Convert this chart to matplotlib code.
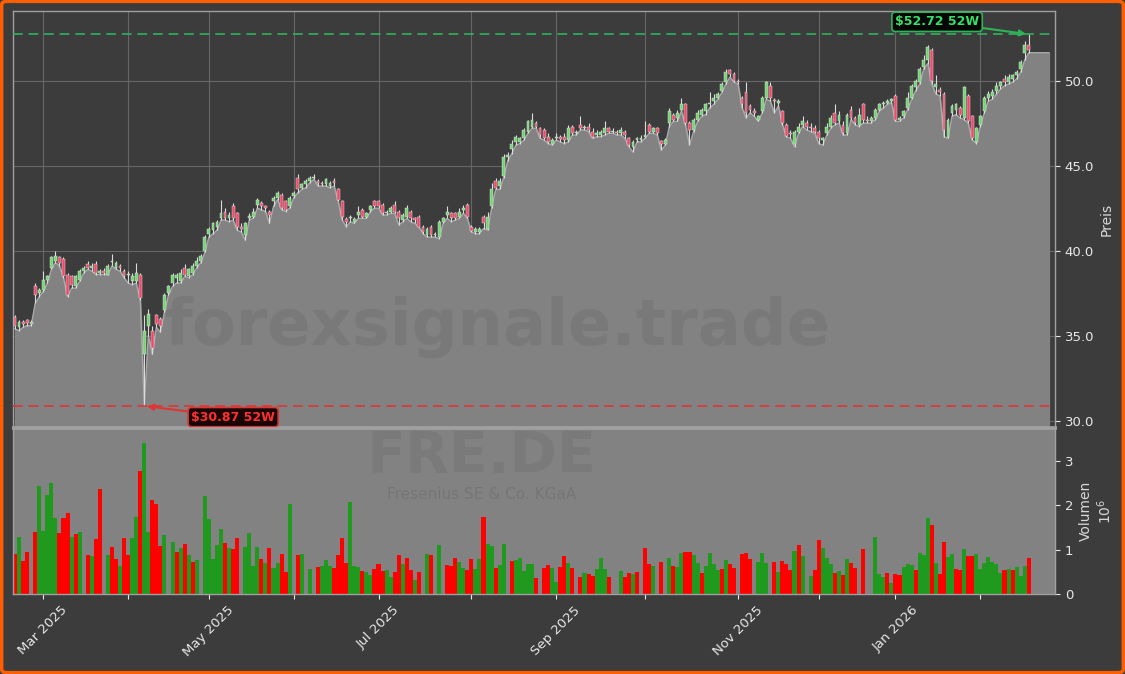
import numpy as np
import pandas as pd
import matplotlib
matplotlib.use("Agg")
import matplotlib.pyplot as plt
from matplotlib.patches import FancyBboxPatch

#%% - Daten (aus dem Chart abgelesen)
ticker = "FRE.DE"
firma = "Fresenius SE & Co. KGaA"
watermark = "forexsignale.trade"
start, ende = "2025-02-20", "2026-02-18"
feiertage = ["2025-04-18", "2025-04-21", "2025-05-01", "2025-12-24",
             "2025-12-25", "2025-12-26", "2025-12-31", "2026-01-01"]

opens = [36.1, 35.5, 35.8, 35.9, 35.7, 37.9, 37.5, 37.7, 38.3, 39.0,
         39.4, 39.6, 39.5, 38.6, 38.5, 37.9, 38.3, 38.8, 39.2, 39.0,
         39.2, 38.7, 38.8, 38.6, 39.35, 39.0, 39.1, 38.8, 38.55, 38.2,
         38.2, 38.6, 33.9, 35.6, 35.3, 36.2, 36.0, 36.5, 37.5, 38.1,
         38.4, 38.2, 39.0, 38.5, 38.7, 39.1, 39.4, 40.0, 41.0, 41.2,
         41.4, 41.9, 42.3, 41.9, 42.6, 42.2, 41.4, 40.9, 41.9, 42.0,
         42.7, 42.8, 42.6, 42.3, 42.9, 43.1, 43.3, 42.9, 42.6, 43.2,
         44.3, 43.7, 43.9, 44.1, 44.3, 44.1, 44.0, 43.9, 43.8, 44.1,
         43.6, 42.9, 41.85, 41.9, 41.7, 42.1, 42.4, 42.0, 42.4, 42.9,
         42.9, 42.7, 42.2, 42.3, 42.7, 42.3, 41.8, 42.0, 42.3, 41.9,
         42.0, 41.4, 40.9, 41.4, 40.9, 40.8, 41.7, 42.1, 42.2, 42.2,
         42.0, 42.4, 42.7, 41.4, 41.1, 41.1, 42.0, 41.3, 42.6, 44.1,
         43.8, 44.4, 45.5, 46.0, 46.4, 46.4, 46.6, 47.0, 47.3, 47.5,
         47.2, 47.1, 46.7, 46.3, 46.65, 46.7, 46.7, 46.5, 47.3, 46.9,
         47.4, 47.2, 47.3, 47.0, 46.8, 46.8, 46.9, 47.2, 47.0, 47.0,
         46.9, 47.0, 46.6, 46.1, 46.5, 46.5, 46.7, 47.4, 47.0, 47.2,
         46.45, 46.3, 47.5, 48.0, 47.8, 48.3, 48.6, 47.5, 47.1, 47.7,
         48.0, 48.2, 48.6, 48.8, 49.0, 49.4, 49.9, 50.6, 50.4, 50.0,
         49.0, 49.3, 48.5, 48.2, 47.7, 48.2, 49.0, 49.7, 48.85, 48.7,
         48.2, 47.4, 46.9, 46.3, 47.0, 47.4, 47.5, 47.3, 47.2, 47.0,
         46.5, 46.9, 47.3, 48.1, 47.6, 47.4, 46.9, 48.3, 47.8, 47.4,
         48.6, 47.7, 47.6, 47.8, 48.3, 48.6, 48.7, 48.8, 49.1, 47.7,
         47.9, 48.4, 49.0, 49.6, 49.9, 50.8, 51.2, 51.8, 49.6, 49.45,
         49.2, 46.7, 48.1, 48.3, 48.4, 47.8, 49.1, 47.9, 46.4, 47.4,
         48.2, 49.0, 49.1, 49.4, 49.7, 50.1, 49.9, 50.1, 50.3, 50.7,
         51.6, 52.1]
highs = [36.2, 35.9, 35.9, 36.0, 35.9, 38.1, 37.8, 38.8, 38.6, 39.7,
         40.0, 39.7, 39.6, 38.7, 38.6, 38.6, 38.9, 39.1, 39.4, 39.3,
         39.4, 38.9, 39.0, 39.2, 39.8, 39.4, 39.2, 38.9, 38.8, 38.7,
         39.3, 38.7, 36.2, 36.6, 35.6, 36.3, 36.1, 37.5, 38.0, 38.7,
         38.7, 38.9, 39.2, 39.0, 39.3, 39.6, 39.8, 40.9, 41.4, 41.7,
         41.8, 43.0, 42.5, 42.3, 42.8, 42.3, 41.6, 41.7, 42.2, 42.5,
         43.1, 42.9, 42.7, 42.4, 43.2, 43.5, 43.4, 43.0, 43.2, 43.5,
         44.5, 44.0, 44.2, 44.4, 44.5, 44.2, 44.1, 44.3, 44.1, 44.3,
         43.7, 43.0, 42.0, 42.1, 42.0, 42.6, 42.5, 42.3, 42.7, 43.0,
         43.0, 42.8, 42.4, 42.6, 42.9, 42.4, 42.2, 42.7, 42.4, 42.0,
         42.1, 41.5, 41.4, 41.5, 41.1, 41.8, 42.0, 42.6, 42.3, 42.3,
         42.5, 42.7, 42.8, 41.5, 41.4, 41.4, 42.1, 42.3, 44.0, 44.3,
         44.3, 45.7, 45.8, 46.5, 46.8, 46.7, 47.2, 47.7, 48.1, 47.6,
         47.3, 47.2, 46.9, 46.6, 46.9, 46.8, 46.9, 47.4, 47.4, 47.1,
         47.9, 47.4, 47.5, 47.2, 47.1, 47.1, 47.6, 47.3, 47.2, 47.1,
         47.3, 47.1, 46.7, 46.5, 46.7, 46.8, 47.6, 47.5, 47.3, 47.3,
         46.5, 46.6, 48.4, 48.1, 48.3, 49.0, 48.7, 47.6, 47.8, 48.3,
         48.4, 48.7, 49.3, 49.2, 49.3, 49.9, 50.7, 50.7, 50.5, 50.1,
         49.1, 49.9, 48.6, 48.4, 48.0, 49.1, 50.0, 49.9, 49.0, 48.9,
         48.3, 47.5, 47.1, 47.1, 47.5, 47.9, 47.7, 47.5, 47.4, 47.1,
         46.7, 47.5, 48.0, 48.6, 48.2, 47.6, 48.1, 48.5, 47.9, 48.4,
         48.7, 47.9, 47.9, 48.4, 48.7, 48.8, 48.9, 49.0, 49.2, 47.9,
         48.3, 49.3, 49.8, 50.1, 50.8, 51.5, 52.1, 51.9, 50.3, 49.6,
         49.3, 47.8, 48.6, 48.7, 48.5, 49.7, 49.2, 48.0, 47.3, 48.0,
         49.1, 49.4, 49.5, 49.9, 50.0, 50.3, 50.4, 50.4, 50.6, 51.2,
         52.3, 52.72]
lows = [35.4, 35.3, 35.5, 35.6, 35.6, 36.9, 37.3, 37.6, 38.1, 38.9,
        39.3, 39.1, 38.4, 37.3, 37.8, 37.8, 38.2, 38.7, 38.9, 38.8,
        38.6, 38.6, 38.6, 38.6, 39.1, 38.9, 38.8, 38.4, 38.1, 38.0,
        38.1, 37.1, 30.87, 35.0, 33.9, 35.5, 35.2, 36.4, 37.4, 37.9,
        38.1, 38.1, 38.5, 38.4, 38.6, 39.0, 39.3, 39.9, 40.8, 41.0,
        41.2, 41.8, 41.8, 41.7, 41.8, 41.2, 41.1, 40.6, 41.8, 41.9,
        42.5, 42.4, 42.3, 41.6, 42.6, 43.0, 42.4, 42.3, 42.5, 43.1,
        43.4, 43.6, 43.7, 44.0, 44.2, 43.8, 43.8, 43.8, 43.7, 43.8,
        42.9, 41.8, 41.4, 41.7, 41.6, 41.9, 41.9, 41.9, 42.3, 42.5,
        42.5, 42.1, 42.1, 42.2, 42.2, 41.5, 41.7, 41.9, 41.7, 41.6,
        41.4, 41.0, 40.8, 40.8, 40.8, 40.7, 41.6, 41.9, 41.7, 41.8,
        41.9, 42.2, 41.9, 41.1, 41.0, 41.0, 41.3, 41.2, 42.5, 43.6,
        43.6, 44.3, 45.3, 45.7, 46.2, 46.3, 46.5, 46.9, 47.2, 47.2,
        46.6, 46.5, 46.3, 46.2, 46.5, 46.4, 46.3, 46.4, 46.8, 46.8,
        47.1, 47.1, 47.0, 46.6, 46.7, 46.7, 46.8, 46.9, 46.9, 46.8,
        46.8, 46.6, 46.1, 45.8, 46.4, 46.4, 46.6, 46.9, 46.9, 46.8,
        45.9, 46.2, 47.3, 47.6, 47.6, 48.2, 47.4, 46.2, 47.0, 47.6,
        47.9, 48.0, 48.4, 48.6, 48.9, 49.3, 49.8, 50.2, 49.9, 49.8,
        48.4, 47.8, 48.1, 47.9, 47.6, 48.1, 48.9, 48.8, 48.1, 48.5,
        47.4, 46.7, 46.6, 46.1, 46.9, 47.3, 47.1, 47.0, 46.9, 46.3,
        46.2, 46.8, 47.2, 47.4, 47.5, 46.8, 46.8, 47.7, 47.4, 47.3,
        47.5, 47.5, 47.5, 47.7, 48.2, 48.4, 48.6, 48.7, 47.6, 47.6,
        47.8, 48.3, 48.9, 49.4, 49.8, 50.7, 51.0, 49.8, 49.2, 49.1,
        46.7, 46.6, 47.9, 48.0, 47.8, 47.7, 47.5, 46.5, 46.3, 47.3,
        48.1, 48.8, 48.9, 49.2, 49.5, 49.7, 49.8, 49.9, 50.1, 50.5,
        51.2, 51.64]
closes = [35.6, 35.8, 35.7, 35.75, 35.8, 37.4, 37.7, 38.3, 38.5, 39.6,
          39.7, 39.3, 38.5, 37.4, 38.0, 38.5, 38.8, 39.0, 39.0, 39.1,
          38.7, 38.8, 38.7, 39.1, 39.4, 39.3, 39.0, 38.5, 38.6, 38.5,
          38.7, 37.2, 35.3, 36.3, 34.3, 35.7, 35.6, 37.4, 37.9, 38.6,
          38.6, 38.7, 38.6, 38.9, 39.1, 39.4, 39.7, 40.8, 41.3, 41.6,
          41.7, 42.2, 41.9, 42.1, 41.9, 41.4, 41.3, 41.6, 42.05, 42.3,
          43.0, 42.6, 42.5, 42.1, 43.1, 43.4, 42.5, 42.4, 43.1, 43.4,
          43.6, 43.9, 44.1, 44.3, 44.35, 44.0, 43.9, 44.2, 44.0, 44.0,
          43.0, 42.0, 41.7, 42.0, 41.85, 42.3, 42.0, 42.2, 42.6, 42.6,
          42.6, 42.2, 42.3, 42.5, 42.3, 41.9, 42.1, 42.5, 41.9, 41.8,
          41.4, 41.1, 41.3, 40.9, 41.0, 41.7, 41.9, 42.3, 41.9, 41.9,
          42.3, 42.5, 42.0, 41.15, 41.3, 41.3, 41.6, 42.0, 43.6, 43.7,
          44.1, 45.5, 45.6, 46.3, 46.7, 46.6, 47.1, 47.6, 47.7, 47.3,
          46.8, 46.6, 46.4, 46.5, 46.7, 46.55, 46.5, 47.2, 46.9, 47.0,
          47.2, 47.25, 47.1, 46.7, 46.9, 47.0, 47.2, 47.0, 47.05, 46.9,
          47.1, 46.8, 46.2, 46.4, 46.6, 46.6, 46.8, 47.0, 47.2, 46.9,
          46.3, 46.5, 48.2, 47.7, 48.1, 48.6, 47.5, 47.1, 47.7, 48.1,
          48.3, 48.6, 48.7, 49.0, 49.2, 49.8, 50.5, 50.4, 50.0, 49.9,
          48.6, 48.1, 48.3, 48.1, 47.9, 49.0, 49.9, 49.0, 48.8, 48.8,
          47.5, 46.75, 46.85, 47.0, 47.3, 47.6, 47.3, 47.2, 47.0, 46.6,
          46.6, 47.3, 47.8, 47.5, 48.0, 46.9, 48.0, 47.8, 47.5, 48.0,
          47.7, 47.6, 47.8, 48.3, 48.6, 48.7, 48.8, 48.9, 47.7, 47.8,
          48.2, 49.0, 49.7, 50.0, 50.7, 51.2, 52.0, 50.0, 49.8, 49.3,
          47.1, 47.7, 48.5, 48.6, 48.0, 49.6, 47.6, 46.6, 47.2, 47.9,
          49.0, 49.2, 49.3, 49.7, 49.9, 49.9, 50.2, 50.3, 50.5, 51.1,
          52.1, 51.8]
# Volumen in Mio. Stück, 0 = kein Balken sichtbar
volumen = [0.90, 1.29, 0.75, 0.94, 0.00, 1.39, 2.43, 1.42, 2.22, 2.50,
           1.71, 1.37, 1.71, 1.82, 1.29, 1.35, 1.39, 0.00, 0.88, 0.86,
           1.25, 2.36, 0.00, 0.88, 1.06, 0.79, 0.64, 1.26, 0.88, 1.26,
           1.73, 2.77, 3.40, 1.39, 2.11, 2.02, 1.08, 1.32, 0.00, 1.17,
           0.94, 1.03, 1.12, 0.88, 0.72, 0.76, 0.00, 2.20, 1.68, 0.79,
           1.10, 1.46, 1.15, 1.03, 1.01, 1.26, 0.00, 1.05, 1.37, 0.63,
           1.06, 0.79, 0.70, 1.03, 0.58, 0.70, 0.90, 0.49, 2.02, 0.00,
           0.88, 0.90, 0.00, 0.56, 0.00, 0.61, 0.63, 0.76, 0.63, 0.58,
           0.88, 1.26, 0.70, 2.07, 0.63, 0.61, 0.52, 0.49, 0.43, 0.56,
           0.67, 0.52, 0.54, 0.38, 0.49, 0.88, 0.67, 0.81, 0.54, 0.31,
           0.49, 0.00, 0.90, 0.88, 0.00, 1.10, 0.00, 0.65, 0.63, 0.81,
           0.72, 0.58, 0.54, 0.79, 0.56, 0.79, 1.73, 1.12, 1.08, 0.58,
           0.65, 1.12, 0.00, 0.74, 0.76, 0.81, 0.52, 0.67, 0.67, 0.36,
           0.00, 0.58, 0.65, 0.58, 0.27, 0.61, 0.85, 0.70, 0.58, 0.00,
           0.38, 0.47, 0.45, 0.40, 0.56, 0.81, 0.56, 0.38, 0.00, 0.00,
           0.52, 0.38, 0.47, 0.45, 0.49, 0.00, 1.03, 0.67, 0.63, 0.00,
           0.72, 0.00, 0.81, 0.63, 0.61, 0.92, 0.94, 0.94, 0.88, 0.70,
           0.47, 0.63, 0.92, 0.67, 0.54, 0.56, 0.76, 0.67, 0.58, 0.00,
           0.90, 0.92, 0.79, 0.00, 0.72, 0.92, 0.70, 0.00, 0.72, 0.49,
           0.74, 0.67, 0.54, 0.97, 1.10, 0.85, 0.00, 0.40, 0.54, 1.21,
           1.03, 0.81, 0.67, 0.47, 0.52, 0.43, 0.79, 0.70, 0.58, 0.00,
           1.01, 0.00, 0.00, 1.28, 0.45, 0.38, 0.47, 0.25, 0.45, 0.43,
           0.61, 0.67, 0.65, 0.54, 0.92, 0.88, 1.71, 1.55, 0.70, 0.45,
           1.17, 0.83, 0.90, 0.56, 0.54, 1.01, 0.85, 0.85, 0.90, 0.56,
           0.70, 0.83, 0.72, 0.67, 0.47, 0.54, 0.56, 0.54, 0.61, 0.40,
           0.63, 0.81]
# Farbe der Volumenbalken: 1 = gruen, 0 = rot
vol_up = [0, 1, 0, 0, 0, 0, 1, 1, 1, 1, 1, 0, 0, 0, 1, 0, 1, 0, 0, 1,
          0, 0, 0, 1, 0, 0, 1, 0, 0, 1, 1, 0, 1, 1, 0, 0, 0, 1, 0, 1,
          0, 1, 0, 1, 0, 1, 0, 1, 1, 1, 1, 1, 0, 1, 0, 0, 0, 1, 1, 1,
          1, 0, 1, 0, 1, 1, 0, 0, 1, 0, 0, 1, 0, 1, 0, 0, 1, 1, 1, 0,
          0, 0, 0, 1, 1, 1, 0, 1, 1, 0, 0, 0, 1, 1, 0, 0, 1, 0, 0, 1,
          0, 0, 1, 0, 0, 1, 0, 0, 0, 0, 1, 1, 0, 0, 1, 1, 0, 1, 1, 0,
          1, 1, 0, 0, 1, 1, 1, 1, 1, 0, 0, 0, 0, 1, 1, 0, 0, 1, 0, 0,
          0, 1, 0, 0, 1, 1, 1, 0, 0, 0, 1, 0, 0, 1, 0, 0, 0, 0, 1, 0,
          0, 0, 1, 0, 1, 1, 0, 0, 1, 1, 0, 1, 1, 1, 1, 0, 1, 0, 0, 0,
          0, 0, 0, 0, 1, 1, 1, 0, 0, 1, 0, 0, 0, 1, 0, 1, 0, 1, 0, 0,
          1, 1, 1, 0, 1, 0, 1, 0, 0, 0, 0, 0, 0, 1, 1, 1, 0, 1, 0, 0,
          1, 1, 1, 0, 1, 1, 1, 0, 1, 0, 0, 1, 1, 0, 0, 1, 0, 0, 1, 1,
          1, 1, 1, 1, 1, 0, 1, 0, 1, 1, 1, 0]

#%% - Aufbereitung
tage = pd.bdate_range(start, ende)
tage = tage[~tage.isin(pd.to_datetime(feiertage))]
o = np.array(opens); h = np.array(highs); l = np.array(lows); c = np.array(closes)
v = np.array(volumen)
n = len(c)
x = np.arange(n)

# Monatsanfaenge als Ticks, jeder zweite beschriftet
monat = tage.to_period("M")
erste = [i for i in range(1, n) if monat[i] != monat[i - 1]]
tick_labels = [tage[i].strftime("%b %Y") if k % 2 == 0 else "" for k, i in enumerate(erste)]

bg = "#3c3c3c"
grau = "#828282"

#%% - Figure
fig = plt.figure(figsize=(11.25, 6.74), dpi=100, facecolor=bg)
W, H = 1125, 674
ax = fig.add_axes([13 / W, 1 - 427 / H, 1042 / W, 416 / H], facecolor=bg)
axv = fig.add_axes([13 / W, 1 - 594 / H, 1042 / W, 166 / H], facecolor=grau, sharex=ax)

# Flaeche unter den Tiefs (am Ende um ein paar Tage verlaengert)
ymin, ymax = l.min() * 0.96, h.max() * 1.026
xf = np.append(x, n + 4)
lf = np.append(l, l[-1])
ax.fill_between(xf, lf, ymin, color=grau, zorder=2)
ax.plot(xf, lf, color="#a8a8a8", lw=1, zorder=2.5)

# Kerzen
up = c >= o
farbe = np.where(up, "#74d474", "#ee4a6a")
ax.vlines(x, l, h, color="#dcdcdc", lw=0.8, zorder=3)
koerper = np.maximum(np.abs(c - o), 0.06)
ax.bar(x, koerper, bottom=np.minimum(o, c), width=0.7, color=farbe,
       edgecolor="#e8e8e8", linewidth=0.3, zorder=4)

# 52W Hoch / Tief
i_hi, i_lo = int(np.argmax(h)), int(np.argmin(l))
ax.axhline(h[i_hi], color="#2fb35a", lw=1.4, ls=(0, (5, 3)), alpha=0.85, zorder=5)
ax.axhline(l[i_lo], color="#e03535", lw=1.4, ls=(0, (5, 3)), alpha=0.85, zorder=5)
ax.annotate(f"${h[i_hi]:.2f} 52W", xy=(i_hi, h[i_hi]), xytext=(-66, 9),
            textcoords="offset points", ha="center", va="center",
            color="#35e06a", fontsize=9, fontweight="bold", zorder=7,
            bbox=dict(boxstyle="round,pad=0.25", fc="#050505", ec="#2fb35a", lw=1.2),
            arrowprops=dict(arrowstyle="-|>", color="#2fb35a", lw=1.5, shrinkA=0, shrinkB=2))
ax.annotate(f"${l[i_lo]:.2f} 52W", xy=(i_lo, l[i_lo]), xytext=(64, -8),
            textcoords="offset points", ha="center", va="center",
            color="#ff3030", fontsize=9, fontweight="bold", zorder=7,
            bbox=dict(boxstyle="round,pad=0.25", fc="#1a0505", ec="#e03535", lw=1.2),
            arrowprops=dict(arrowstyle="-|>", color="#e03535", lw=1.5, shrinkA=0, shrinkB=2))

# Wasserzeichen
ax.text(0.465, 0.24, watermark, transform=ax.transAxes, ha="center", va="center",
        fontsize=46, fontweight="bold", color="#5a5a5a", alpha=0.22, zorder=2.8)
axv.text(0.45, 0.82, ticker, transform=axv.transAxes, ha="center", va="center",
         fontsize=41, fontweight="bold", color="#5a5a5a", alpha=0.2, zorder=0.5)
axv.text(0.45, 0.6, firma, transform=axv.transAxes, ha="center", va="center",
         fontsize=11, color="#5a5a5a", alpha=0.3, zorder=0.5)

# Volumen
vfarbe = np.where(np.array(vol_up) == 1, "#1f9a1f", "#ff0000")
axv.bar(x, v, width=1.0, color=vfarbe, zorder=2)

#%% - Achsen
ax.set_xlim(-0.5, n + 5.5)
ax.set_ylim(ymin, ymax)
axv.set_ylim(0, v.max() * 1.1)
ax.set_xticks(erste)
axv.set_xticks(erste)
axv.set_xticklabels(tick_labels, rotation=45, ha="center")
ax.tick_params(axis="x", length=0, labelbottom=False)
ax.grid(True, color="#666666", lw=0.8, zorder=0)
ax.set_axisbelow(True)

ax.yaxis.tick_right()
ax.yaxis.set_label_position("right")
ax.yaxis.set_major_formatter(plt.FormatStrFormatter("%.1f"))
ax.set_ylabel("Preis", color="#d8d8d8", fontsize=10)
axv.yaxis.tick_right()
axv.yaxis.set_label_position("right")
axv.set_yticks([0, 1, 2, 3])
axv.set_ylabel("Volumen\n$10^6$", color="#d8d8d8", fontsize=10)

for a in (ax, axv):
    a.tick_params(colors="#e8e8e8", labelsize=9.5)
    for s in a.spines.values():
        s.set_color("#a0a0a0")
        s.set_linewidth(1.0)
ax.spines["bottom"].set_linewidth(2)
axv.spines["top"].set_linewidth(2)

# oranger Rahmen
fig.patches.append(FancyBboxPatch((0.0015, 0.002), 0.997, 0.996,
                                  boxstyle="round,pad=0,rounding_size=0.005",
                                  transform=fig.transFigure, fc="none",
                                  ec="#ff5f00", lw=2.5))

fig.savefig("out.png", dpi=100, facecolor=bg)
